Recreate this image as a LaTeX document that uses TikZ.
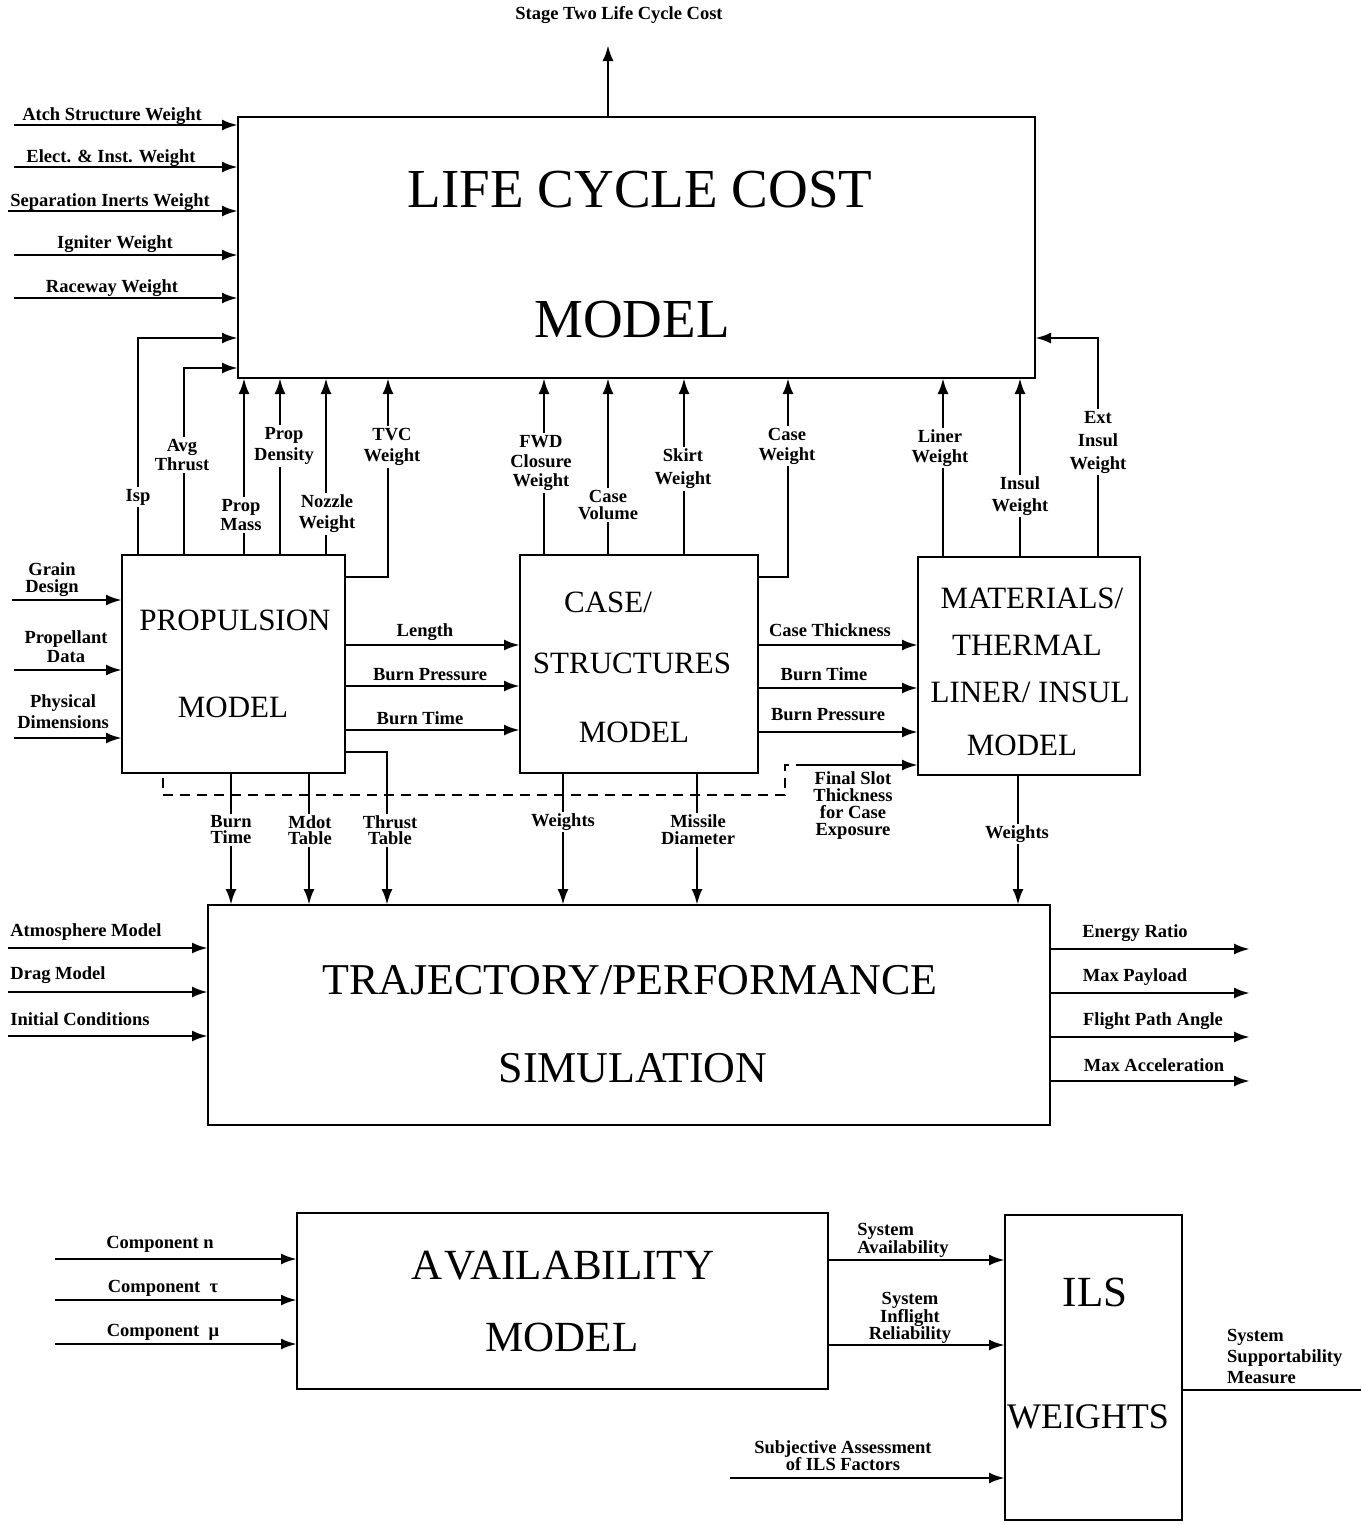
\documentclass[tikz,border=0pt]{standalone}
\usepackage{fontspec}
\setmainfont{Liberation Serif}
\usetikzlibrary{arrows.meta}
\newcommand\labfnt[1]{\fontsize{18.5}{#1}\bfseries\selectfont}
\begin{document}
\begin{tikzpicture}[x=1pt,y=-1pt,
  box/.style={draw, line width=2.8pt, anchor=north west, inner sep=0pt, outer sep=0pt},
  ln/.style={line width=2.8pt},
  arr/.style={ln, -{Latex[length=16pt,width=11pt]}},
  lab/.style={font=\labfnt{19}, align=center, inner sep=1pt},
  glab/.style={lab, fill=white, inner sep=2pt},
  tA/.style={font=\fontsize{55}{60}\selectfont, inner sep=0pt},
  tB/.style={font=\fontsize{31}{34}\selectfont, inner sep=0pt},
  tC/.style={font=\fontsize{44}{48}\selectfont, inner sep=0pt},
  tD/.style={font=\fontsize{43}{46}\selectfont, inner sep=0pt}]
\useasboundingbox (0,0) rectangle (1361,1524);

% ---------- boxes ----------
\node[box, minimum width=797pt, minimum height=261pt] (lcc) at (238,117) {};
\node[box, minimum width=223pt, minimum height=218pt] (prop) at (122,555) {};
\node[box, minimum width=238pt, minimum height=218pt] (case) at (520,555) {};
\node[box, minimum width=222pt, minimum height=218pt] (mat) at (918,557) {};
\node[box, minimum width=842pt, minimum height=220pt] (traj) at (208,905) {};
\node[box, minimum width=531pt, minimum height=176pt] (avail) at (297,1213) {};
\node[box, minimum width=177pt, minimum height=305pt] (ils) at (1005,1215) {};

% ---------- box titles ----------
\node[tA] (lccT1) at (640,190) {LIFE CYCLE COST};
\node[tA] (lccT2) at (632,320) {MODEL};
\node[tB] (propT1) at (235,620) {PROPULSION};
\node[tB] (propT2) at (233,707) {MODEL};
\node[tB] (caseT1) at (608,602) {CASE/};
\node[tB] (caseT2) at (632,663) {STRUCTURES};
\node[tB] (caseT3) at (634,732) {MODEL};
\node[tB] (matT1) at (1032,598) {MATERIALS/};
\node[tB] (matT2) at (1027,645) {THERMAL};
\node[tB] (matT3) at (1030,692) {LINER/ INSUL};
\node[tB] (matT4) at (1022,745) {MODEL};
\node[tC] (trajT1) at (630,980) {TRAJECTORY/PERFORMANCE};
\node[tC] (trajT2) at (633,1068) {SIMULATION};
\node[tD] (availT1) at (563,1266) {A\kern2pt VAILABILITY};
\node[tD] (availT2) at (562,1337) {MODEL};
\node[tD] (ilsT1) at (1095,1292) {ILS};
\node[font=\fontsize{36}{40}\selectfont, inner sep=0pt] (ilsT2) at (1088,1417) {WEIGHTS};

% ---------- LCC output ----------
\coordinate (out) at (608,45);
\draw[arr] (out |- lcc.north) -- (out);
\node[lab] (outL) at (619,15) {Stage Two Life Cycle Cost};

% ---------- LCC left inputs ----------
\coordinate (a1) at (14,125);
\coordinate (a2) at (14,167);
\coordinate (a3) at (8,211);
\coordinate (a4) at (14,255);
\coordinate (a5) at (14,298);
\foreach \p in {a1,a2,a3,a4,a5} \draw[arr] (\p) -- (\p -| lcc.west);
\node[lab] (a1L) at (112,116) {Atch Structure Weight};
\node[lab] (a2L) at (111,158) {Elect. \& Inst. Weight};
\node[lab] (a3L) at (110,202) {Separation Inerts Weight};
\node[lab] (a4L) at (115,244) {Igniter Weight};
\node[lab] (a5L) at (112,288) {Raceway Weight};

% ---------- propulsion -> LCC ----------
\coordinate (isp) at (138,338);
\coordinate (avg) at (184,368);
\coordinate (pmass) at (244,0);
\coordinate (pden) at (280,0);
\coordinate (noz) at (326,0);
\coordinate (tvc) at (388,577);
\draw[arr] (isp |- prop.north) -- (isp) -- (isp -| lcc.west);
\draw[arr] (avg |- prop.north) -- (avg) -- (avg -| lcc.west);
\draw[arr] (pmass |- prop.north) -- (pmass |- lcc.south);
\draw[arr] (pden |- prop.north) -- (pden |- lcc.south);
\draw[arr] (noz |- prop.north) -- (noz |- lcc.south);
\draw[arr] (tvc -| prop.east) -- (tvc) -- (tvc |- lcc.south);

% ---------- case -> LCC ----------
\coordinate (fwd) at (544,0);
\coordinate (cvol) at (608,0);
\coordinate (skirt) at (684,0);
\coordinate (cw) at (788,577);
\draw[arr] (fwd |- case.north) -- (fwd |- lcc.south);
\draw[arr] (cvol |- case.north) -- (cvol |- lcc.south);
\draw[arr] (skirt |- case.north) -- (skirt |- lcc.south);
\draw[arr] (cw -| case.east) -- (cw) -- (cw |- lcc.south);

% ---------- materials -> LCC ----------
\coordinate (liner) at (943,0);
\coordinate (insul) at (1020,0);
\coordinate (ext) at (1098,338);
\draw[arr] (liner |- mat.north) -- (liner |- lcc.south);
\draw[arr] (insul |- mat.north) -- (insul |- lcc.south);
\draw[arr] (ext |- mat.north) -- (ext) -- (ext -| lcc.east);

% ---------- propulsion inputs ----------
\coordinate (g1) at (12,600);
\coordinate (g2) at (14,670);
\coordinate (g3) at (14,738);
\foreach \p in {g1,g2,g3} \draw[arr] (\p) -- (\p -| prop.west);
\node[lab, font=\labfnt{17}] (g1L) at (52,580) {Grain\\Design};
\node[lab, font=\labfnt{19}] (g2L) at (66,647) {Propellant\\Data};
\node[lab, font=\labfnt{21}] (g3L) at (63,712) {Physical\\Dimensions};

% ---------- propulsion -> case ----------
\coordinate (h1) at (0,645);
\coordinate (h2) at (0,686);
\coordinate (h3) at (0,730);
\foreach \p in {h1,h2,h3} \draw[arr] (\p -| prop.east) -- (\p -| case.west);
\node[lab] (h1L) at (425,632) {Length};
\node[lab] (h2L) at (430,675) {Burn Pressure};
\node[lab] (h3L) at (420,718) {Burn Time};

% ---------- case -> materials ----------
\coordinate (k1) at (0,645);
\coordinate (k2) at (0,688);
\coordinate (k3) at (0,732);
\foreach \p in {k1,k2,k3} \draw[arr] (\p -| case.east) -- (\p -| mat.west);
\node[lab] (k1L) at (830,630) {Case Thickness};
\node[lab] (k2L) at (824,674) {Burn Time};
\node[lab] (k3L) at (828,715) {Burn Pressure};

% ---------- final slot (dashed) ----------
\coordinate (d1) at (163,778);
\coordinate (d2) at (163,795);
\coordinate (d3) at (785,795);
\coordinate (d4) at (785,765);
\coordinate (d5) at (797,765);
\draw[ln, dash pattern=on 10pt off 7pt] (d1) -- (d2) -- (d3) -- (d4) -- (d5);
\draw[arr] (d5) -- (d5 -| mat.west);

% ---------- down to trajectory ----------
\coordinate (bt) at (231,0);
\coordinate (md) at (309,0);
\coordinate (thr) at (387,752);
\coordinate (wts) at (563,0);
\coordinate (mdia) at (697,0);
\coordinate (mw) at (1018,0);
\draw[arr] (bt |- prop.south) -- (bt |- traj.north);
\draw[arr] (md |- prop.south) -- (md |- traj.north);
\draw[arr] (thr -| prop.east) -- (thr) -- (thr |- traj.north);
\draw[arr] (wts |- case.south) -- (wts |- traj.north);
\draw[arr] (mdia |- case.south) -- (mdia |- traj.north);
\draw[arr] (mw |- mat.south) -- (mw |- traj.north);

% ---------- trajectory inputs/outputs ----------
\coordinate (t1) at (8,948);
\coordinate (t2) at (8,992);
\coordinate (t3) at (8,1036);
\foreach \p in {t1,t2,t3} \draw[arr] (\p) -- (\p -| traj.west);
\node[lab] (t1L) at (86,932) {Atmosphere Model};
\node[lab] (t2L) at (58,975) {Drag Model};
\node[lab] (t3L) at (80,1019) {Initial Conditions};
\coordinate (e1) at (1250,949);
\coordinate (e2) at (1250,993);
\coordinate (e3) at (1250,1037);
\coordinate (e4) at (1250,1081);
\foreach \p in {e1,e2,e3,e4} \draw[arr] (\p -| traj.east) -- (\p);
\node[lab] (e1L) at (1135,933) {Energy Ratio};
\node[lab] (e2L) at (1135,977) {Max Payload};
\node[lab] (e3L) at (1153,1021) {Flight Path Angle};
\node[lab] (e4L) at (1154,1065) {Max Acceleration};

% ---------- availability ----------
\coordinate (c1) at (55,1259);
\coordinate (c2) at (55,1300);
\coordinate (c3) at (55,1344);
\foreach \p in {c1,c2,c3} \draw[arr] (\p) -- (\p -| avail.west);
\node[lab] (c1L) at (160,1244) {Component n};
\node[lab] (c2L) at (163,1288) {Component \ τ};
\node[lab] (c3L) at (163,1332) {Component \ μ};
\coordinate (s1) at (0,1260);
\coordinate (s2) at (0,1345);
\draw[arr] (s1 -| avail.east) -- (s1 -| ils.west);
\draw[arr] (s2 -| avail.east) -- (s2 -| ils.west);
\node[lab, font=\labfnt{18}, align=left] (s1L) at (903,1240) {System\\Availability};
\node[lab, font=\labfnt{17}] (s2L) at (910,1318) {System\\Inflight\\Reliability};
\coordinate (subj) at (730,1478);
\draw[arr] (subj) -- (subj -| ils.west);
\node[lab, font=\labfnt{17}] (subjL) at (843,1456) {Subjective Assessment\\of ILS Factors};
\coordinate (sup) at (1361,1390);
\draw[ln] (sup -| ils.east) -- (sup);
\node[lab, font=\labfnt{21}, align=left, anchor=west] (supL) at (1226,1356) {System\\Supportability\\Measure};

% ---------- labels over vertical lines ----------
\node[glab] (ispL) at (138,497) {Isp};
\node[glab, font=\labfnt{19}] (avgL) at (182,455) {Avg\\Thrust};
\node[glab, font=\labfnt{19}] (pmL) at (241,515) {Prop\\Mass};
\node[glab, font=\labfnt{21}] (pdL) at (284,446) {Prop\\Density};
\node[glab, font=\labfnt{21}] (nozL) at (327,514) {Nozzle\\Weight};
\node[glab, font=\labfnt{21}] (tvcL) at (392,447) {TVC\\Weight};
\node[glab, font=\labfnt{19.5}] (fwdL) at (541,463) {FWD\\Closure\\Weight};
\node[glab, font=\labfnt{17}] (cvolL) at (608,505) {Case\\Volume};
\node[glab, font=\labfnt{23}] (skL) at (683,469) {Skirt\\Weight};
\node[glab, font=\labfnt{20}] (cwL) at (787,446) {Case\\Weight};
\node[glab, font=\labfnt{20}] (liL) at (940,448) {Liner\\Weight};
\node[glab, font=\labfnt{22}] (inL) at (1020,496) {Insul\\Weight};
\node[glab, font=\labfnt{23}] (exL) at (1098,442) {Ext\\Insul\\Weight};
\node[glab, font=\labfnt{16}] (btL) at (231,830) {Burn\\Time};
\node[glab, font=\labfnt{16}] (mdL) at (310,830) {Mdot\\Table};
\node[glab, font=\labfnt{16}] (thL) at (390,830) {Thrust\\Table};
\node[glab] (wtL) at (563,822) {Weights};
\node[glab, font=\labfnt{17}] (mdiaL) at (698,830) {Missile\\Diameter};
\node[glab] (mwL) at (1017,834) {Weights};
\node[lab, font=\labfnt{17}] (fsL) at (853,806) {Final Slot\\Thickness\\for Case\\Exposure};
\end{tikzpicture}
\end{document}
